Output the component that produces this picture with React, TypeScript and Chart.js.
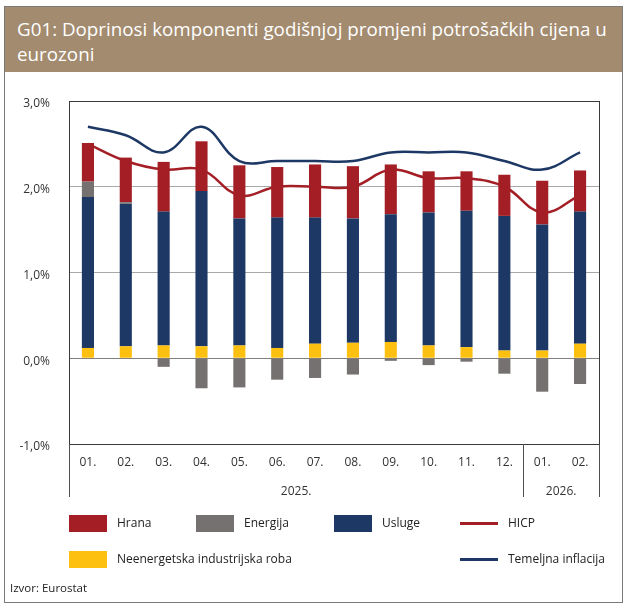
import React, { useEffect, useRef } from "react";
import { Chart, registerables } from "chart.js";

Chart.register(...registerables);

const months = ["01.", "02.", "03.", "04.", "05.", "06.", "07.", "08.", "09.", "10.", "11.", "12.", "01.", "02."];
const years = [
  { label: "2025.", from: 0, to: 11 },
  { label: "2026.", from: 12, to: 13 },
];
const neig = [0.12, 0.14, 0.15, 0.14, 0.15, 0.12, 0.17, 0.18, 0.19, 0.15, 0.13, 0.09, 0.09, 0.17];
const services = [1.76, 1.66, 1.56, 1.81, 1.48, 1.52, 1.47, 1.45, 1.49, 1.55, 1.59, 1.57, 1.47, 1.54];
const energy = [0.18, 0.02, -0.10, -0.35, -0.34, -0.25, -0.23, -0.19, -0.03, -0.08, -0.04, -0.18, -0.39, -0.30];
const food = [0.45, 0.52, 0.58, 0.58, 0.62, 0.59, 0.62, 0.61, 0.58, 0.48, 0.46, 0.48, 0.51, 0.48];
const hicp = [2.5, 2.3, 2.2, 2.2, 1.9, 2.0, 2.0, 2.0, 2.2, 2.1, 2.1, 2.0, 1.7, 1.9];
const core = [2.7, 2.6, 2.4, 2.7, 2.3, 2.3, 2.3, 2.3, 2.4, 2.4, 2.4, 2.3, 2.2, 2.4];
const yTicks = [-1, 0, 1, 2, 3];

const RED = "#A41E25";
const GREY = "#767171";
const NAVY = "#1D3865";
const YELLOW = "#FDC010";
const FONT = "'Open Sans', 'DejaVu Sans', sans-serif";

export default function App() {
  const ref = useRef<HTMLCanvasElement | null>(null);

  useEffect(() => {
    if (!ref.current) return;
    const decor = {
      id: "decor",
      afterDraw(chart: any) {
        const { ctx, chartArea } = chart;
        const xs = chart.scales.x;
        ctx.save();
        ctx.strokeStyle = "#3a3a3a";
        ctx.lineWidth = 1;
        ctx.strokeRect(Math.round(chartArea.left) + 0.5, Math.round(chartArea.top) + 0.5,
          Math.round(chartArea.right - chartArea.left), Math.round(chartArea.bottom - chartArea.top));
        const half = (xs.getPixelForValue(1) - xs.getPixelForValue(0)) / 2;
        const bounds = [chartArea.left, xs.getPixelForValue(11) + half, chartArea.right];
        ctx.strokeStyle = "#505050";
        bounds.forEach((b) => {
          const x = Math.round(b) + 0.5;
          ctx.beginPath();
          ctx.moveTo(x, chartArea.bottom);
          ctx.lineTo(x, chartArea.bottom + 53);
          ctx.stroke();
        });
        ctx.fillStyle = "#333";
        ctx.font = "12px " + FONT;
        ctx.textAlign = "center";
        ctx.textBaseline = "middle";
        years.forEach((y) => {
          const x = (xs.getPixelForValue(y.from) + xs.getPixelForValue(y.to)) / 2;
          ctx.fillText(y.label, x, 492);
        });
        ctx.restore();
      },
    };

    const chart = new Chart(ref.current, {
      type: "bar",
      data: {
        labels: months,
        datasets: [
          { type: "line", label: "HICP", data: hicp, borderColor: RED, borderWidth: 2.5, pointRadius: 0, tension: 0.4, stack: "l1", order: 0, fill: false } as any,
          { type: "line", label: "Temeljna inflacija", data: core, borderColor: NAVY, borderWidth: 2.5, pointRadius: 0, tension: 0.4, stack: "l2", order: 0, fill: false } as any,
          { label: "Neenergetska industrijska roba", data: neig, backgroundColor: YELLOW, order: 1, stack: "b" },
          { label: "Usluge", data: services, backgroundColor: NAVY, order: 1, stack: "b" },
          { label: "Energija", data: energy, backgroundColor: GREY, order: 1, stack: "b" },
          { label: "Hrana", data: food, backgroundColor: RED, order: 1, stack: "b" },
        ],
      },
      options: {
        animation: false,
        responsive: false,
        maintainAspectRatio: false,
        layout: { padding: { left: 0, right: 25, top: 101, bottom: 109 } },
        datasets: { bar: { barPercentage: 0.32, categoryPercentage: 1 } },
        plugins: { legend: { display: false }, tooltip: { enabled: false } },
        scales: {
          x: {
            stacked: true,
            grid: { display: false, drawTicks: false },
            border: { display: false },
            ticks: { color: "#333", font: { family: FONT, size: 12 }, padding: 11, maxRotation: 0, autoSkip: false },
            afterFit: (s: any) => { s.height = 54; },
          },
          y: {
            stacked: true,
            min: -1,
            max: 3,
            afterBuildTicks: (s: any) => { s.ticks = yTicks.map((v) => ({ value: v })); },
            grid: {
              drawTicks: false,
              color: (c: any) => (c.tick && c.tick.value === 0 ? "#808080" : c.tick && (c.tick.value === 1 || c.tick.value === 2) ? "#a8a8a8" : "rgba(0,0,0,0)"),
            },
            border: { display: false },
            ticks: {
              color: "#333",
              font: { family: FONT, size: 12 },
              padding: 19,
              labelOffset: 3,
              callback: (v: any) => Number(v).toFixed(1).replace(".", ",") + "%",
            },
            afterFit: (s: any) => { s.width = 69; },
          },
        },
      },
      plugins: [decor],
    } as any);
    return () => chart.destroy();
  }, []);

  const legendBox = (color: string, left: number, top: number) => (
    <div style={{ position: "absolute", left, top, width: 38, height: 17, background: color }} />
  );
  const legendLine = (color: string, left: number, top: number) => (
    <div style={{ position: "absolute", left, top, width: 38, height: 2.5, background: color }} />
  );
  const legendText = (text: string, left: number, top: number) => (
    <div style={{ position: "absolute", left, top, fontSize: 12, color: "#222", lineHeight: "16px", whiteSpace: "nowrap" }}>{text}</div>
  );

  return (
    <div style={{ position: "relative", width: 624, height: 607, fontFamily: FONT, overflow: "hidden" }}>
      <style>{`body{margin:0}`}</style>
      <div style={{ position: "absolute", left: 4, top: 6, width: 619, height: 597, border: "1px solid #7a7a7a", boxSizing: "border-box" }} />
      <div style={{ position: "absolute", left: 5, top: 7, width: 617, height: 65, background: "#A38B6F" }} />
      <div style={{ position: "absolute", left: 17, top: 17, color: "#fff", fontSize: 18.8, lineHeight: "25px", whiteSpace: "nowrap" }}>
        G01: Doprinosi komponenti godišnjoj promjeni potrošačkih cijena u<br />eurozoni
      </div>
      <canvas ref={ref} width={624} height={607} style={{ position: "absolute", left: 0, top: 0, width: 624, height: 607 }} />
      {legendBox(RED, 69, 515)}
      {legendText("Hrana", 117, 515)}
      {legendBox(GREY, 196, 515)}
      {legendText("Energija", 244, 515)}
      {legendBox(NAVY, 334, 515)}
      {legendText("Usluge", 382, 515)}
      {legendLine(RED, 460, 522)}
      {legendText("HICP", 508, 515)}
      {legendBox(YELLOW, 69, 551)}
      {legendText("Neenergetska industrijska roba", 117, 551)}
      {legendLine(NAVY, 460, 558)}
      {legendText("Temeljna inflacija", 508, 551)}
      <div style={{ position: "absolute", left: 10, top: 580, fontSize: 11.5, color: "#222", whiteSpace: "nowrap" }}>Izvor: Eurostat</div>
    </div>
  );
}
